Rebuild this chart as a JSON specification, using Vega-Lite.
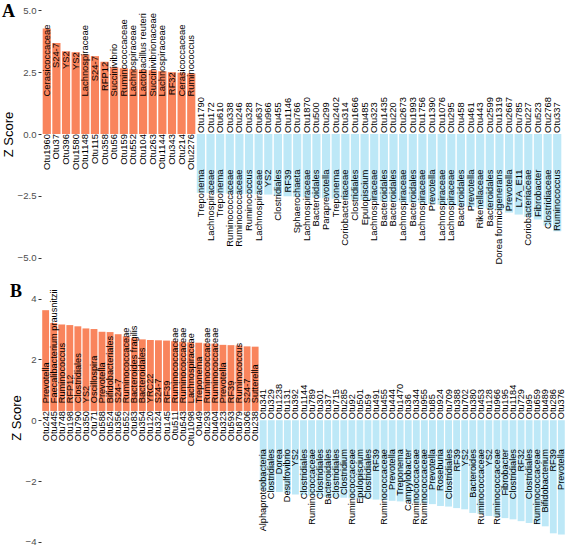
{
  "$schema": "https://vega.github.io/schema/vega-lite/v6.json",
  "padding": {"left": 2, "top": 3, "right": 2, "bottom": 0},
  "config": {
    "view": {"stroke": null},
    "font": "Liberation Sans",
    "axis": {"grid": false, "domain": false, "minExtent": 0, "tickColor": "#333333", "tickSize": 3, "labelColor": "#4D4D4D", "labelFontSize": 9.6, "labelFont": "Liberation Sans", "titleFont": "Liberation Sans", "titleFontSize": 13, "titleFontWeight": "normal", "titleColor": "black", "labelPadding": 2, "titlePadding": 2},
    "text": {"font": "Liberation Sans", "fontSize": 9.4, "angle": 270, "baseline": "middle", "color": "black"}
  },
  "datasets": {
    "A": [
      {"otu": "Otu1960", "taxon": "Cerasicoccaceae", "z": 4.27},
      {"otu": "Otu37", "taxon": "S24-7", "z": 3.68},
      {"otu": "Otu396", "taxon": "YS2", "z": 3.35},
      {"otu": "Otu1580", "taxon": "YS2", "z": 3.31},
      {"otu": "Otu1148", "taxon": "Lachnospiraceae", "z": 3.22},
      {"otu": "Otu115", "taxon": "S24-7", "z": 3.15},
      {"otu": "Otu358", "taxon": "RFP12", "z": 2.92},
      {"otu": "Otu56", "taxon": "Succinivibrio", "z": 2.70},
      {"otu": "Otu159", "taxon": "Ruminococcaceae", "z": 2.66},
      {"otu": "Otu552", "taxon": "Lachnospiraceae", "z": 2.62},
      {"otu": "Otu104", "taxon": "Lactobacillus reuteri", "z": 2.60},
      {"otu": "Otu263", "taxon": "Succinivibrionaceae", "z": 2.58},
      {"otu": "Otu1144", "taxon": "Lachnospiraceae", "z": 2.54},
      {"otu": "Otu343", "taxon": "RF32", "z": 2.50},
      {"otu": "Otu214", "taxon": "Cerasicoccaceae", "z": 2.48},
      {"otu": "Otu2276", "taxon": "Ruminococcus", "z": 2.45},
      {"otu": "Otu1790", "taxon": "Treponema", "z": -2.38},
      {"otu": "Otu172", "taxon": "Lachnospiraceae", "z": -2.39},
      {"otu": "Otu610", "taxon": "Treponema", "z": -2.40},
      {"otu": "Otu338", "taxon": "Ruminococcaceae", "z": -2.41},
      {"otu": "Otu246", "taxon": "Ruminococcaceae", "z": -2.42},
      {"otu": "Otu328", "taxon": "Ruminococcus", "z": -2.43},
      {"otu": "Otu637", "taxon": "Lachnospiraceae", "z": -2.44},
      {"otu": "Otu966", "taxon": "YS2", "z": -2.45},
      {"otu": "Otu455", "taxon": "Clostridiales", "z": -2.50},
      {"otu": "Otu1146", "taxon": "RF39", "z": -2.52},
      {"otu": "Otu766", "taxon": "Sphaerochaeta", "z": -2.54},
      {"otu": "Otu1870", "taxon": "Lachnospiraceae", "z": -2.56},
      {"otu": "Otu500", "taxon": "Bacteroidales", "z": -2.58},
      {"otu": "Otu299", "taxon": "Paraprevotella", "z": -2.60},
      {"otu": "Otu2402", "taxon": "Treponema", "z": -2.62},
      {"otu": "Otu314", "taxon": "Coriobacteriaceae", "z": -2.64},
      {"otu": "Otu1666", "taxon": "Clostridiales", "z": -2.66},
      {"otu": "Otu485", "taxon": "Epulopiscium", "z": -2.68},
      {"otu": "Otu323", "taxon": "Lachnospiraceae", "z": -2.70},
      {"otu": "Otu1435", "taxon": "Bacteroidales", "z": -2.72},
      {"otu": "Otu220", "taxon": "Bacteroidales", "z": -2.74},
      {"otu": "Otu2673", "taxon": "Lachnospiraceae", "z": -2.76},
      {"otu": "Otu1993", "taxon": "Bacteroidales", "z": -2.78},
      {"otu": "Otu1756", "taxon": "Lachnospiraceae", "z": -2.80},
      {"otu": "Otu1390", "taxon": "Prevotella", "z": -2.83},
      {"otu": "Otu1076", "taxon": "Lachnospiraceae", "z": -2.86},
      {"otu": "Otu295", "taxon": "Lachnospiraceae", "z": -2.89},
      {"otu": "Otu458", "taxon": "Bacteroidales", "z": -2.92},
      {"otu": "Otu461", "taxon": "Prevotella", "z": -2.95},
      {"otu": "Otu443", "taxon": "Rikenellaceae", "z": -2.98},
      {"otu": "Otu2599", "taxon": "Bacteroidales", "z": -3.02},
      {"otu": "Otu1319", "taxon": "Dorea formicigenerans", "z": -3.08},
      {"otu": "Otu2667", "taxon": "Prevotella", "z": -3.18},
      {"otu": "Otu785", "taxon": "L7A_E11", "z": -3.26},
      {"otu": "Otu227", "taxon": "Coriobacteriaceae", "z": -3.35},
      {"otu": "Otu523", "taxon": "Fibrobacter", "z": -3.46},
      {"otu": "Otu2768", "taxon": "Clostridiaceae", "z": -3.70},
      {"otu": "Otu337", "taxon": "Ruminococcus", "z": -3.93}
    ],
    "B": [
      {"otu": "Otu242", "taxon": "Prevotella", "z": 3.62},
      {"otu": "Otu445", "taxon": "Faecalibacterium prausnitzii", "z": 3.20},
      {"otu": "Otu748", "taxon": "Ruminococcus", "z": 3.15},
      {"otu": "Otu198", "taxon": "RFP12", "z": 3.13},
      {"otu": "Otu790", "taxon": "Clostridiales", "z": 3.09},
      {"otu": "Otu350", "taxon": "YS2", "z": 3.02},
      {"otu": "Otu71", "taxon": "Oscillospira", "z": 3.00},
      {"otu": "Otu588", "taxon": "Prevotella", "z": 2.91},
      {"otu": "Otu524", "taxon": "Bifidobacteriales", "z": 2.90},
      {"otu": "Otu356", "taxon": "S24-7", "z": 2.83},
      {"otu": "Otu552", "taxon": "Ruminococcaceae", "z": 2.76},
      {"otu": "Otu83", "taxon": "Bacteroides fragilis", "z": 2.70},
      {"otu": "Otu354", "taxon": "Bacteroidales", "z": 2.66},
      {"otu": "Otu120", "taxon": "YRC22", "z": 2.64},
      {"otu": "Otu324", "taxon": "S24-7", "z": 2.63},
      {"otu": "Otu145", "taxon": "RF39", "z": 2.62},
      {"otu": "Otu511", "taxon": "Ruminococcaceae", "z": 2.60},
      {"otu": "Otu543", "taxon": "Ruminococcaceae", "z": 2.58},
      {"otu": "Otu1098", "taxon": "Lachnospiraceae", "z": 2.56},
      {"otu": "Otu49", "taxon": "Treponema", "z": 2.55},
      {"otu": "Otu293", "taxon": "Ruminococcaceae", "z": 2.53},
      {"otu": "Otu404", "taxon": "Ruminococcaceae", "z": 2.52},
      {"otu": "Otu323", "taxon": "Prevotella", "z": 2.48},
      {"otu": "Otu593", "taxon": "RF39", "z": 2.47},
      {"otu": "Otu879", "taxon": "Ruminococcus", "z": 2.46},
      {"otu": "Otu306", "taxon": "S24-7", "z": 2.43},
      {"otu": "Otu238", "taxon": "Sutterella", "z": 2.42},
      {"otu": "Otu341", "taxon": "Alphaproteobacteria", "z": -2.30},
      {"otu": "Otu329", "taxon": "Clostridiales", "z": -2.33},
      {"otu": "Otu1238", "taxon": "Dorea", "z": -2.36},
      {"otu": "Otu131", "taxon": "Desulfovibrio", "z": -2.40},
      {"otu": "Otu392", "taxon": "YS2", "z": -2.44},
      {"otu": "Otu1144", "taxon": "Clostridiales", "z": -2.46},
      {"otu": "Otu789", "taxon": "Ruminococcaceae", "z": -2.48},
      {"otu": "Otu301", "taxon": "Clostridiales", "z": -2.50},
      {"otu": "Otu37", "taxon": "Bacteroidales", "z": -2.52},
      {"otu": "Otu715", "taxon": "Clostridiales", "z": -2.53},
      {"otu": "Otu285", "taxon": "Clostridium", "z": -2.55},
      {"otu": "Otu92", "taxon": "Ruminococcaceae", "z": -2.57},
      {"otu": "Otu501", "taxon": "Epulopiscium", "z": -2.58},
      {"otu": "Otu59", "taxon": "Clostridiales", "z": -2.59},
      {"otu": "Otu491", "taxon": "RF39", "z": -2.61},
      {"otu": "Otu455", "taxon": "Ruminococcaceae", "z": -2.63},
      {"otu": "Otu444", "taxon": "Prevotella", "z": -2.65},
      {"otu": "Otu1470", "taxon": "Treponema", "z": -2.67},
      {"otu": "Otu36", "taxon": "Campylobacter", "z": -2.69},
      {"otu": "Otu344", "taxon": "Ruminococcaceae", "z": -2.71},
      {"otu": "Otu955", "taxon": "Ruminococcaceae", "z": -2.73},
      {"otu": "Otu85", "taxon": "Prevotella", "z": -2.76},
      {"otu": "Otu924", "taxon": "Roseburia", "z": -2.82},
      {"otu": "Otu709", "taxon": "Clostridiales", "z": -2.84},
      {"otu": "Otu388", "taxon": "RF39", "z": -2.89},
      {"otu": "Otu702", "taxon": "YS2", "z": -2.93},
      {"otu": "Otu380", "taxon": "Bacteroides", "z": -3.05},
      {"otu": "Otu453", "taxon": "Ruminococcaceae", "z": -3.08},
      {"otu": "Otu128", "taxon": "YS2", "z": -3.15},
      {"otu": "Otu966", "taxon": "Ruminococcaceae", "z": -3.18},
      {"otu": "Otu195", "taxon": "Fibrobacter", "z": -3.22},
      {"otu": "Otu1184", "taxon": "Clostridiales", "z": -3.26},
      {"otu": "Otu729", "taxon": "RF32", "z": -3.32},
      {"otu": "Otu95", "taxon": "Clostridiales", "z": -3.38},
      {"otu": "Otu659", "taxon": "Ruminococcaceae", "z": -3.42},
      {"otu": "Otu489", "taxon": "Bifidobacterium", "z": -3.49},
      {"otu": "Otu286", "taxon": "RF39", "z": -3.72},
      {"otu": "Otu376", "taxon": "Prevotella", "z": -3.76}
    ]
  },
  "columns": 1,
  "align": "none",
  "spacing": 18,
  "resolve": {"scale": {"x": "independent", "y": "independent"}},
  "concat": [
    {
      "width": 522,
      "height": 262,
      "title": {"text": "A", "anchor": "start", "frame": "bounds", "font": "Liberation Serif", "fontSize": 18, "fontWeight": "bold", "color": "black", "offset": 0, "dy": 18, "baseline": "top"},
      "data": {"name": "A"},
      "encoding": {
        "x": {"field": "otu", "type": "nominal", "sort": {"field": "z", "op": "max", "order": "descending"}, "axis": null, "scale": {"paddingInner": 0.15, "paddingOuter": 0.175}}
      },
      "layer": [
        {
          "transform": [{"filter": "datum.z > 0"}],
          "mark": {"type": "bar", "color": "#F9845C"},
          "encoding": {
            "y": {"field": "z", "type": "quantitative", "scale": {"domain": [-5.3, 5.3], "nice": false, "zero": false}, "axis": {"title": "Z Score", "values": [-5, -2.5, 0, 2.5, 5], "format": ".1f"}},
            "y2": {"datum": 0}
          }
        },
        {
          "transform": [{"filter": "datum.z < 0"}],
          "mark": {"type": "bar", "color": "#BDE8F7"},
          "encoding": {
            "y": {"field": "z", "type": "quantitative"},
            "y2": {"datum": 0}
          }
        },
        {
          "transform": [{"filter": "datum.z > 0"}],
          "mark": {"type": "text", "align": "right"},
          "encoding": {"y": {"datum": 0}, "text": {"field": "otu"}}
        },
        {
          "transform": [{"filter": "datum.z < 0"}],
          "mark": {"type": "text", "align": "left", "dx": 1},
          "encoding": {"y": {"datum": 0}, "text": {"field": "otu"}}
        },
        {
          "transform": [{"filter": "datum.z > 0 && datum.z - 0.2 * length(datum.taxon) > 1.5"}],
          "mark": {"type": "text", "align": "right"},
          "encoding": {"y": {"field": "z", "type": "quantitative"}, "text": {"field": "taxon"}}
        },
        {
          "transform": [{"filter": "datum.z > 0 && datum.z - 0.2 * length(datum.taxon) <= 1.5"}],
          "mark": {"type": "text", "align": "left"},
          "encoding": {"y": {"datum": 1.52}, "text": {"field": "taxon"}}
        },
        {
          "transform": [{"filter": "datum.z < 0"}],
          "mark": {"type": "text", "align": "right"},
          "encoding": {"y": {"datum": -1.44}, "text": {"field": "taxon"}}
        }
      ]
    },
    {
      "width": 525,
      "height": 259,
      "title": {"text": "B", "anchor": "start", "frame": "bounds", "font": "Liberation Serif", "fontSize": 18, "fontWeight": "bold", "color": "black", "offset": 0, "dy": 13, "baseline": "top"},
      "data": {"name": "B"},
      "encoding": {
        "x": {"field": "otu", "type": "nominal", "sort": {"field": "z", "op": "max", "order": "descending"}, "axis": null, "scale": {"paddingInner": 0.15, "paddingOuter": 0.15}}
      },
      "layer": [
        {
          "transform": [{"filter": "datum.z > 0"}],
          "mark": {"type": "bar", "color": "#F9845C"},
          "encoding": {
            "y": {"field": "z", "type": "quantitative", "scale": {"domain": [-4.17, 4.35], "nice": false, "zero": false}, "axis": {"title": "Z Score", "values": [-4, -2, 0, 2, 4], "format": "d"}},
            "y2": {"datum": 0.3}
          }
        },
        {
          "transform": [{"filter": "datum.z < 0"}],
          "mark": {"type": "bar", "color": "#BDE8F7"},
          "encoding": {
            "y": {"field": "z", "type": "quantitative"},
            "y2": {"datum": 0}
          }
        },
        {
          "transform": [{"filter": "datum.z > 0"}],
          "mark": {"type": "text", "align": "right", "fontSize": 9.2},
          "encoding": {"y": {"datum": 0.3}, "text": {"field": "otu"}}
        },
        {
          "transform": [{"filter": "datum.z < 0"}],
          "mark": {"type": "text", "align": "left", "dx": 1, "fontSize": 9.2},
          "encoding": {"y": {"datum": 0}, "text": {"field": "otu"}}
        },
        {
          "transform": [{"filter": "datum.z > 0"}],
          "mark": {"type": "text", "align": "left", "fontSize": 9.2},
          "encoding": {"y": {"datum": 0.56}, "text": {"field": "taxon"}}
        },
        {
          "transform": [{"filter": "datum.z < 0"}],
          "mark": {"type": "text", "align": "right", "fontSize": 9.2},
          "encoding": {"y": {"datum": -0.95}, "text": {"field": "taxon"}}
        }
      ]
    }
  ]
}
